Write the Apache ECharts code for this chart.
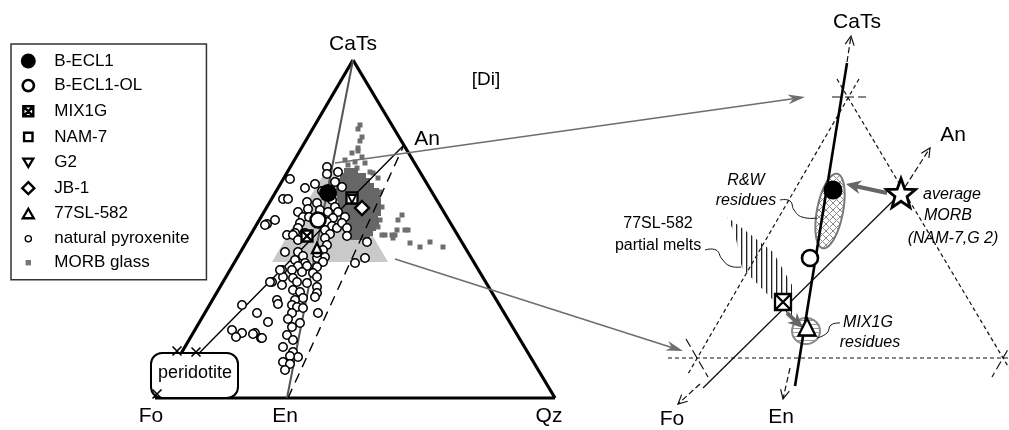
<!DOCTYPE html>
<html><head><meta charset="utf-8">
<script src="https://cdn.jsdelivr.net/npm/echarts@6/dist/echarts.min.js"></script>
<style>html,body{margin:0;padding:0;background:#fff}#c{width:1009px;height:430px}</style>
</head><body><div id="c"></div>
<script>
// ---------------- DATA (diagram coordinates) ----------------
const B_ECL1 = [[328,193],[833,190]];
const B_ECL1_OL = [[318,220],[810,258]];
const MIX1G = [[307,236],[783,302]];
const NAM7 = [[352,198]];
const G2 = [[352,199]];
const JB1 = [[362,208]];
const SL77 = [[317,248],[807,327]];
const avgMORB = [[901,193]];
const peridotiteX = [[157,394],[177,351],[196,352]];

const pyroxenite = [
[327,167],[327,174],[338,172],[290,179],[305,188],[335,182],[342,187],[315,184],[322,191],
[283,199],[288,199],[307,202],[308,209],[317,203],[320,210],[332,200],[335,207],[338,212],[345,217],
[298,212],[303,217],[309,217],[328,212],[333,218],[275,220],[267,224],[300,223],[327,222],[332,226],
[337,228],[342,223],[347,228],[298,228],[295,233],[287,235],[293,235],[305,233],[325,230],[330,234],
[325,238],[347,236],[298,240],[327,245],[323,250],[285,252],[298,252],[303,256],[325,257],[295,260],
[305,263],[317,258],[323,262],[365,258],[355,263],[367,242],[317,253],[298,266],[307,266],[317,267],
[282,270],[292,270],[302,272],[313,273],[283,277],[293,278],[317,277],[272,282],[282,285],[297,282],
[307,283],[317,287],[317,293],[293,290],[300,292],[315,297],[303,298],[295,300],[277,300],[278,304],
[242,305],[292,305],[297,307],[303,308],[257,313],[292,313],[318,313],[288,319],
[268,322],[300,323],[292,327],[242,333],[255,333],[232,330],[236,337],[253,334],
[261,338],[287,335],[262,338],[293,340],[283,347],[293,352],[298,357],[290,356],[283,362],
[290,364],[285,370],[223,357],[280,270],[270,282],[265,225]
];

const morbScatter = [
[360,125],[358,129],[362,137],[360,141],[358,148],[352,153],[358,151],[362,157],[365,163],[355,162],
[357,168],[373,173],[378,178],[380,192],[382,207],[380,220],[378,227],[398,220],[402,215],[397,230],
[405,230],[408,230],[392,235],[395,235],[410,243],[420,247],[430,242],[443,247],[382,235],[385,235],
[393,238],[370,172],[348,165],[345,160]
];
const morbCluster = [
[348,172],[354,172],
[344,177],[350,177],[356,177],[362,177],
[342,182],[348,182],[354,182],[360,182],[366,182],
[340,187],[346,187],[352,187],[358,187],[364,187],[370,187],
[340,192],[346,192],[352,192],[358,192],[364,192],[370,192],[375,192],
[341,197],[347,197],[353,197],[359,197],[365,197],[371,197],[376,197],
[342,202],[348,202],[354,202],[360,202],[366,202],[372,202],[377,202],
[342,207],[348,207],[354,207],[360,207],[366,207],[372,207],[377,207],
[343,212],[349,212],[355,212],[361,212],[367,212],[373,212],[377,212],
[344,217],[350,217],[356,217],[362,217],[368,217],[374,217],
[346,222],[352,222],[358,222],[364,222],[370,222],[375,222],
[348,227],[354,227],[360,227],[366,227],[372,227],
[351,232],[357,232],[363,232],[369,232],
[355,236],[361,236],[366,236]
];

// lines
const frameEdges = [[[155,398],[353,60]],[[353,60],[555,398]],[[155,398],[555,398]]];
const catsEnLeft = [[[353,60],[287,398]]];
const foAnLeft = [[[155,398],[404,145]]];
const enAnLeft = [[[288,398],[404,145]]];
const pointerArrows = [[[335,163],[805,97]],[[395,259],[683,351]]];
const shadedField = [[272,262],[388,262],[330,163]];
const peridotiteBox = [[151,353],[238,398]];

const rightTriangle = [[[859,79],[688,374]],[[837,79],[1009,368]],[[668,358],[1009,358]]];
const rightTicks = [[[832,97],[866,97]],[[686,339],[708,377]],[[1014,339],[992,377]]];
const rightCatsEn = [[[847,63],[795,386]]];
const rightFoAn = [[[703,388],[900,194]]];
const rightAxisArrows = [[[847,62],[851,36]],[[790,368],[783,399]],[[700,384],[678,404]],[[905,187],[930,148]]];
const rightGreyArrows = [[[887,193],[846,184]],[[787,313],[803,328]]];
const rwEllipse = [[830,211,13,38,11]];
const mixEllipse = [[806,331,14,13,0]];
const hatchBand = [[727,217],[742,228],[773,252],[792,285],[792,318],[773,300],[742,268],[735,234]];
const leaderRW = [[780,200],[790,201],[794,210],[802,217],[817,218]];
const leader77 = [[705,250],[716,250],[722,259],[730,266],[741,267]];
const leaderMIX = [[840,323],[831,325],[827,333],[817,338]];

const labelsVertex = [['CaTs',353,44],['An',427,139],['Fo',151,416],['En',285,416],['Qz',549,416],
                      ['CaTs',857,22],['An',953,135],['Fo',672,419],['En',781,417]];
const labelsDi = [['[Di]',486,80]];
const labelsItalic = [['R&W',746,181],['residues',746,201],['MIX1G',868,323],['residues',870,343],
                      ['average',952,195],['MORB',948,216],['(NAM-7,G 2)',953,239]];
const labelsPlain = [['77SL-582',658,224],['partial melts',658,246]];
const labelsPeridotite = [['peridotite',195,373]];

const legendNames = ['B-ECL1','B-ECL1-OL','MIX1G','NAM-7','G2','JB-1','77SL-582','natural pyroxenite','MORB glass'];

// ---------------- helpers ----------------
const FONT = '"Liberation Sans", Arial, Helvetica, sans-serif';
function segSeries(segs, st, z) {
  return {
    type:'custom', coordinateSystem:'cartesian2d', silent:true, z:z,
    data: segs.map(s => [s[0][0], s[0][1], s[1][0], s[1][1]]),
    encode:{x:[0,2], y:[1,3]},
    renderItem(params, api) {
      const a = api.coord([api.value(0), api.value(1)]);
      const b = api.coord([api.value(2), api.value(3)]);
      const ang = Math.atan2(b[1]-a[1], b[0]-a[0]);
      const c = Math.cos(ang), s = Math.sin(ang);
      const P = (base, l, w) => [base[0] + c*l - s*w, base[1] + s*l + c*w];
      let b2 = b;
      if (st.head === 'filled') b2 = P(b, -st.hl*0.6, 0);
      const ch = [{type:'line', shape:{x1:a[0],y1:a[1],x2:b2[0],y2:b2[1]},
        style:{stroke:st.color, lineWidth:st.width, lineDash: st.dash || null, fill:'none'}}];
      if (st.head === 'open') ch.push({type:'polyline', shape:{points:[P(b,-st.hl,st.hw), b, P(b,-st.hl,-st.hw)]},
        style:{stroke:st.color, lineWidth:st.width, fill:'none'}});
      if (st.head === 'filled') ch.push({type:'polygon',
        shape:{points:[b, P(b,-st.hl,st.hw), P(b,-st.hl*0.7,0), P(b,-st.hl,-st.hw)]},
        style:{fill:st.color, stroke:'none'}});
      return {type:'group', children: ch};
    }
  };
}
function polySeries(pts, closed, style, z, smooth) {
  return {type:'custom', coordinateSystem:'cartesian2d', silent:true, z:z,
    data: pts, encode:{x:0,y:1},
    renderItem(params, api){
      if (params.dataIndex !== 0) return null;
      const P = pts.map(p => api.coord(p));
      return {type: closed ? 'polygon' : 'polyline', shape:{points:P, smooth: smooth || 0}, style: Object.assign({}, style)};
    }};
}
function ellipseSeries(items, style, z) {
  return {type:'custom', coordinateSystem:'cartesian2d', silent:true, z:z,
    data: items, encode:{x:0,y:1},
    renderItem(params, api){
      const cx = api.value(0), cy = api.value(1), rx = api.value(2), ry = api.value(3);
      const r = api.value(4) * Math.PI / 180;
      const pts = [];
      for (let k = 0; k < 64; k++) {
        const t = k / 64 * Math.PI * 2;
        const x = cx + rx*Math.cos(t)*Math.cos(r) - ry*Math.sin(t)*Math.sin(r);
        const y = cy + rx*Math.cos(t)*Math.sin(r) + ry*Math.sin(t)*Math.cos(r);
        pts.push(api.coord([x, y]));
      }
      return {type:'polygon', shape:{points:pts}, style:Object.assign({}, style)};
    }};
}
function rectSeries(corners, style, z, radius) {
  return {type:'custom', coordinateSystem:'cartesian2d', silent:true, z:z,
    data: corners, encode:{x:0,y:1},
    renderItem(params, api){
      if (params.dataIndex !== 0) return null;
      const a = api.coord(corners[0]), b = api.coord(corners[1]);
      return {type:'rect', shape:{x:a[0], y:a[1], width:b[0]-a[0], height:b[1]-a[1], r:radius}, style:Object.assign({}, style)};
    }};
}
function textSeries(items, font, z) {
  return {type:'custom', coordinateSystem:'cartesian2d', silent:true, z:z,
    data: items.map(t => [t[1], t[2]]), encode:{x:0,y:1},
    renderItem(params, api){
      const p = api.coord([api.value(0), api.value(1)]);
      return {type:'text', x:p[0], y:p[1], style:{text: items[params.dataIndex][0], fill:'#000', font:font, align:'center', verticalAlign:'middle'}};
    }};
}
function mkPattern(w, h, draw) {
  const cv = document.createElement('canvas'); cv.width = w; cv.height = h;
  const g = cv.getContext('2d'); draw(g, w, h); return {image: cv, repeat: 'repeat'};
}
const crossHatch = mkPattern(7, 7, (g, w, h) => {
  g.fillStyle = '#fff'; g.fillRect(0,0,w,h);
  g.strokeStyle = '#8a8a8a'; g.lineWidth = 1;
  g.beginPath(); g.moveTo(0,0); g.lineTo(w,h); g.moveTo(w,0); g.lineTo(0,h); g.stroke();
});
const horizHatch = mkPattern(4, 4, (g, w, h) => {
  g.fillStyle = '#fff'; g.fillRect(0,0,w,h);
  g.fillStyle = '#9a9a9a'; g.fillRect(0,0,w,1);
});
const vertHatch = mkPattern(5, 5, (g, w, h) => {
  g.fillStyle = '#222'; g.fillRect(1,0,1.3,h);
});

// symbol paths
const boxX = 'path://M0,0L10,0L10,10L0,10Z M0,0L10,10 M10,0L0,10';
const invTri = 'path://M0,0L10,0L5,8.66Z';
function starPath() {
  let d = '';
  for (let k = 0; k < 10; k++) {
    const r = k % 2 === 0 ? 10 : 4.2;
    const a = -Math.PI/2 + k * Math.PI / 5;
    d += (k === 0 ? 'M' : 'L') + (10 + r*Math.cos(a)).toFixed(2) + ',' + (10 + r*Math.sin(a)).toFixed(2);
  }
  return 'path://' + d + 'Z';
}
// legend icons: 33x18 box, symbol centred at (12,9)
const LB = s => 'path://M0,0 M33,18 ' + s;
const circ = (cx, cy, r) => `M${cx+r},${cy} A${r},${r} 0 1 1 ${cx-r},${cy} A${r},${r} 0 1 1 ${cx+r},${cy} Z`;
const sq = (cx, cy, h) => `M${cx-h},${cy-h} L${cx+h},${cy-h} L${cx+h},${cy+h} L${cx-h},${cy+h} Z`;
const legendIcons = {
  'B-ECL1': LB(circ(12,9,7.5)),
  'B-ECL1-OL': LB(circ(12,9,5.6)),
  'MIX1G': LB(sq(12,9,5) + ' M7,4 L17,14 M17,4 L7,14'),
  'NAM-7': LB(sq(12,9,4.2)),
  'G2': LB('M7,5 L17,5 L12,13.5 Z'),
  'JB-1': LB('M12,3 L18,9 L12,15 L6,9 Z'),
  '77SL-582': LB('M12,4 L17.5,13.5 L6.5,13.5 Z'),
  'natural pyroxenite': LB(circ(12,9,3.1)),
  'MORB glass': LB(sq(12,9,2.7))
};
const legendStyles = {
  'B-ECL1': {color:'#000', borderColor:'#000', borderWidth:0},
  'B-ECL1-OL': {color:'#fff', borderColor:'#000', borderWidth:2.6},
  'MIX1G': {color:'#fff', borderColor:'#000', borderWidth:2.4},
  'NAM-7': {color:'#fff', borderColor:'#000', borderWidth:2.4},
  'G2': {color:'#fff', borderColor:'#000', borderWidth:2.3},
  'JB-1': {color:'#fff', borderColor:'#000', borderWidth:2.4},
  '77SL-582': {color:'#fff', borderColor:'#000', borderWidth:2.3},
  'natural pyroxenite': {color:'#fff', borderColor:'#000', borderWidth:1.3},
  'MORB glass': {color:'#777', borderColor:'#777', borderWidth:0}
};

function scatter(name, data, symbol, size, style, z, extra) {
  return Object.assign({type:'scatter', name:name, data:data, symbol:symbol, symbolSize:size,
    itemStyle:Object.assign({opacity:1}, style), z:z, silent:true, emphasis:{disabled:true}}, extra || {});
}
const bigRight = (small, big) => (v => v[0] > 600 ? big : small);

const chart = echarts.init(document.getElementById('c'), null, {renderer:'canvas'});
chart.setOption({
  animation:false,
  grid:{left:0, right:0, top:0, bottom:0},
  xAxis:{type:'value', min:0, max:1009, show:false},
  yAxis:{type:'value', min:0, max:430, inverse:true, show:false},
  legend:{
    orient:'vertical', left:11, top:44, padding:[8,17,8,4],
    itemWidth:33, itemHeight:18, itemGap:5.25,
    borderColor:'#333', borderWidth:1.5, backgroundColor:'#fff',
    selectedMode:false,
    textStyle:{fontSize:17, color:'#000', fontFamily:FONT},
    data: legendNames.map(n => ({name:n, icon:legendIcons[n], itemStyle:Object.assign({opacity:1}, legendStyles[n])}))
  },
  series:[
    polySeries(shadedField, true, {fill:'#c9c9c9', stroke:'none'}, 1),
    scatter('MORB glass', morbScatter, 'rect', 5, {color:'#6e6e6e'}, 2),
    scatter('MORB glass', morbCluster, 'rect', 8, {color:'#666'}, 2),
    segSeries(frameEdges, {color:'#000', width:3.2}, 3),
    segSeries(catsEnLeft, {color:'#555', width:2}, 3),
    segSeries(foAnLeft, {color:'#000', width:1.4}, 3),
    segSeries(enAnLeft, {color:'#000', width:1.4, dash:[10,7]}, 3),
    segSeries(pointerArrows, {color:'#6e6e6e', width:1.6, head:'filled', hl:17, hw:5}, 3),
    scatter('natural pyroxenite', pyroxenite, 'circle', 8.5, {color:'#fff', borderColor:'#000', borderWidth:1.5}, 4),
    rectSeries(peridotiteBox, {fill:'#fff', stroke:'#000', lineWidth:2}, 5, 11),
    scatter('px', peridotiteX, 'path://M0,0L10,10M10,0L0,10', 9, {color:'none', borderColor:'#000', borderWidth:1.6}, 5),
    // right panel
    segSeries(rightTriangle, {color:'#111', width:1.2, dash:[4,3]}, 3),
    segSeries(rightTicks, {color:'#111', width:1.2, dash:[9,4]}, 3),
    polySeries(hatchBand, true, {fill:vertHatch, stroke:'none'}, 3),
    ellipseSeries(rwEllipse, {fill:crossHatch, stroke:'#7a7a7a', lineWidth:2}, 3),
    ellipseSeries(mixEllipse, {fill:horizHatch, stroke:'#8a8a8a', lineWidth:2}, 3),
    segSeries(rightFoAn, {color:'#111', width:1.3}, 4),
    segSeries(rightCatsEn, {color:'#000', width:2.6}, 4),
    segSeries(rightAxisArrows, {color:'#111', width:1.2, dash:[6,3], head:'open', hl:9, hw:4.5}, 4),
    polySeries(leaderRW, false, {fill:'none', stroke:'#111', lineWidth:1}, 4, 0.5),
    polySeries(leader77, false, {fill:'none', stroke:'#111', lineWidth:1}, 4, 0.5),
    polySeries(leaderMIX, false, {fill:'none', stroke:'#111', lineWidth:1}, 4, 0.5),
    segSeries(rightGreyArrows, {color:'#666', width:4, head:'filled', hl:15, hw:7}, 5),
    // markers
    scatter('MORBavg', avgMORB, starPath(), 29, {color:'#fff', borderColor:'#000', borderWidth:2.8}, 6),
    scatter('77SL-582', SL77, 'triangle', bigRight(10, 17), {color:'#fff', borderColor:'#000', borderWidth:2.3}, 6),
    scatter('MIX1G', MIX1G, boxX, bigRight(11, 16), {color:'#fff', borderColor:'#000', borderWidth:2.3}, 6),
    scatter('B-ECL1-OL', B_ECL1_OL, 'circle', bigRight(15, 16), {color:'#fff', borderColor:'#000', borderWidth:2.6}, 6),
    scatter('B-ECL1', B_ECL1, 'circle', bigRight(18, 19), {color:'#000'}, 6),
    scatter('NAM-7', NAM7, 'rect', 11, {color:'#fff', borderColor:'#000', borderWidth:2.3}, 6),
    scatter('G2', G2, invTri, 8, {color:'#fff', borderColor:'#000', borderWidth:1.8}, 6),
    scatter('JB-1', JB1, 'diamond', 14, {color:'#fff', borderColor:'#000', borderWidth:2.4}, 6),
    // text
    textSeries(labelsVertex, '21px ' + FONT, 7),
    textSeries(labelsDi, '19px ' + FONT, 7),
    textSeries(labelsItalic, 'italic 16px ' + FONT, 7),
    textSeries(labelsPlain, '16px ' + FONT, 7),
    textSeries(labelsPeridotite, '18px ' + FONT, 7)
  ]
});
</script></body></html>
